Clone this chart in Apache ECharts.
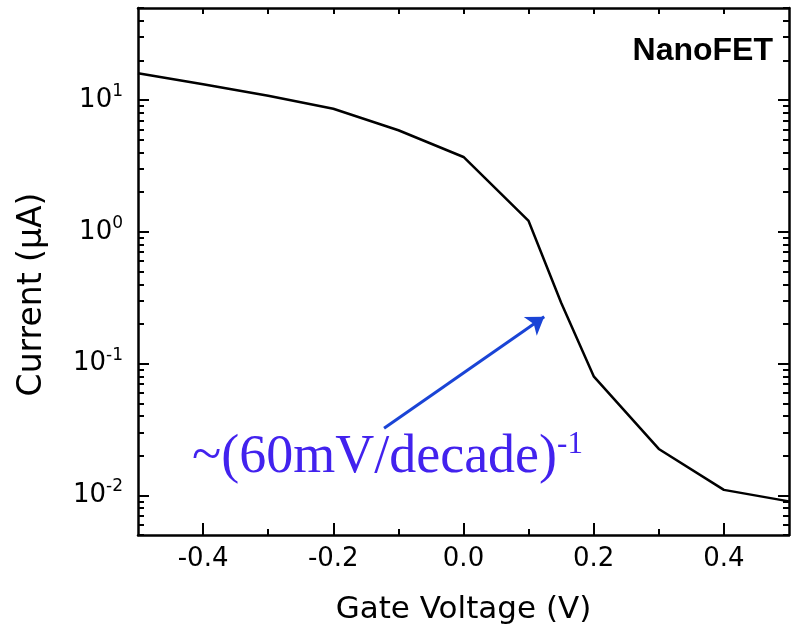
<!DOCTYPE html>
<html>
<head>
<meta charset="utf-8">
<script src="https://cdn.jsdelivr.net/npm/echarts@6/dist/echarts.min.js"></script>
<style>
html,body{margin:0;padding:0;background:#fff;}
#chart{width:798px;height:639px;}
</style>
</head>
<body>
<div id="chart"></div>
<script>
// ---- data ----
var gateVoltage = [-0.5, -0.4, -0.3, -0.2, -0.1, 0.0, 0.1, 0.15, 0.2, 0.3, 0.4, 0.5];
var currentUA   = [16.0, 13.2, 10.8, 8.6, 5.9, 3.7, 1.21, 0.29, 0.080, 0.0225, 0.0110, 0.0090];

var xMajorTicks = [-0.4, -0.2, 0.0, 0.2, 0.4];
var xMinorTicks = [-0.3, -0.1, 0.1, 0.3];
var xTopTicks   = [-0.4, -0.3, -0.2, -0.1, 0.0, 0.1, 0.2, 0.3, 0.4];
var yMajorTicks = [0.01, 0.1, 1, 10];
var yMinorMultipliers = [2, 3, 4, 5, 6, 7, 8, 9];
var yDecades = [0.001, 0.01, 0.1, 1, 10];

var xTitle = 'Gate Voltage (V)';
var yTitle = 'Current (\u03bcA)';
var plotLabel = 'NanoFET';
var annotationText = '~(60mV/decade)';
var annotationSup = '-1';
var arrowFrom = [-0.122, 0.0323];
var arrowTo = [0.124, 0.227];

var yMin = 0.005, yMax = 50;
var xMin = -0.5, xMax = 0.5;

var yMinorTicks = [];
yDecades.forEach(function (d) {
  yMinorMultipliers.forEach(function (m) {
    var v = +(d * m).toPrecision(6);
    if (v >= yMin && v <= yMax) yMinorTicks.push(v);
  });
});

var points = gateVoltage.map(function (x, i) { return [x, currentUA[i]]; });

var chart = echarts.init(document.getElementById('chart'), null, {renderer: 'canvas'});
var black = '#000';
var tickFont = 'DejaVu Sans';

function xAxisDef(pos, ticks, len, showLabel, showLine) {
  return {
    type: 'value', position: pos, min: xMin, max: xMax,
    axisLine: {show: showLine, onZero: false, lineStyle: {color: black, width: 2.5}},
    axisTick: {show: true, inside: true, length: len, customValues: ticks, lineStyle: {color: black, width: 2}},
    axisLabel: showLabel ? {
      show: true, customValues: ticks, margin: 11, color: black,
      fontFamily: tickFont, fontSize: 26,
      formatter: function (v) { return v.toFixed(1); }
    } : {show: false},
    splitLine: {show: false},
    name: showLabel ? xTitle : '',
    nameLocation: 'middle', nameGap: 59,
    nameTextStyle: {fontFamily: 'DejaVu Sans', fontSize: 31, color: black}
  };
}
function yAxisDef(pos, ticks, len, showLabel, showLine) {
  return {
    type: 'log', logBase: 10, position: pos, min: yMin, max: yMax,
    axisLine: {show: showLine, onZero: false, lineStyle: {color: black, width: 2.5}},
    axisTick: {show: true, inside: true, length: len, customValues: ticks, lineStyle: {color: black, width: 2}},
    axisLabel: showLabel ? {
      show: true, customValues: ticks, margin: 15, color: black,
      formatter: function (v) { return '{b|10}{s|' + Math.round(Math.log10(v)) + '}'; },
      rich: {
        b: {fontFamily: tickFont, fontSize: 26, lineHeight: 34, color: black},
        s: {fontFamily: tickFont, fontSize: 17, lineHeight: 17, verticalAlign: 'top', color: black}
      }
    } : {show: false},
    splitLine: {show: false},
    name: showLabel ? yTitle : '',
    nameLocation: 'middle', nameGap: 89,
    nameTextStyle: {fontFamily: 'DejaVu Sans', fontSize: 33, color: black, padding: [0, 46, 0, 0]}
  };
}

var option = {
  animation: false,
  backgroundColor: '#fff',
  title: {
    text: plotLabel, right: 25, top: 35, padding: 0,
    textStyle: {fontFamily: 'Liberation Sans', fontWeight: 'bold', fontSize: 32, color: black}
  },
  grid: {left: 138, top: 8, width: 651, height: 527, containLabel: false},
  xAxis: [
    xAxisDef('bottom', xMajorTicks, 12, true, true),
    xAxisDef('bottom', xMinorTicks, 6, false, false),
    xAxisDef('top', xTopTicks, 6, false, true)
  ],
  yAxis: [
    yAxisDef('left', yMajorTicks, 11, true, true),
    yAxisDef('left', yMinorTicks, 6, false, false),
    yAxisDef('right', yMajorTicks, 11, false, true),
    yAxisDef('right', yMinorTicks, 6, false, false)
  ],
  series: [{
    type: 'line', xAxisIndex: 0, yAxisIndex: 0,
    data: points, symbol: 'none', smooth: false,
    lineStyle: {color: black, width: 2.5},
    markLine: {
      silent: true, animation: false,
      symbol: ['none', 'arrow'], symbolSize: 17,
      label: {show: false},
      lineStyle: {color: '#1a44d6', width: 3, type: 'solid'},
      data: [[{coord: arrowFrom}, {coord: arrowTo}]]
    }
  }],
  graphic: [{
    type: 'text', left: 192, top: 429,
    style: {
      text: '{m|' + annotationText + '}{s|' + annotationSup + '}',
      rich: {
        m: {fontFamily: 'Liberation Serif', fontSize: 54, lineHeight: 58, fill: '#4222ee'},
        s: {fontFamily: 'Liberation Serif', fontSize: 31, lineHeight: 34, verticalAlign: 'top', fill: '#4222ee'}
      }
    }
  }]
};
chart.setOption(option);
</script>
</body>
</html>
